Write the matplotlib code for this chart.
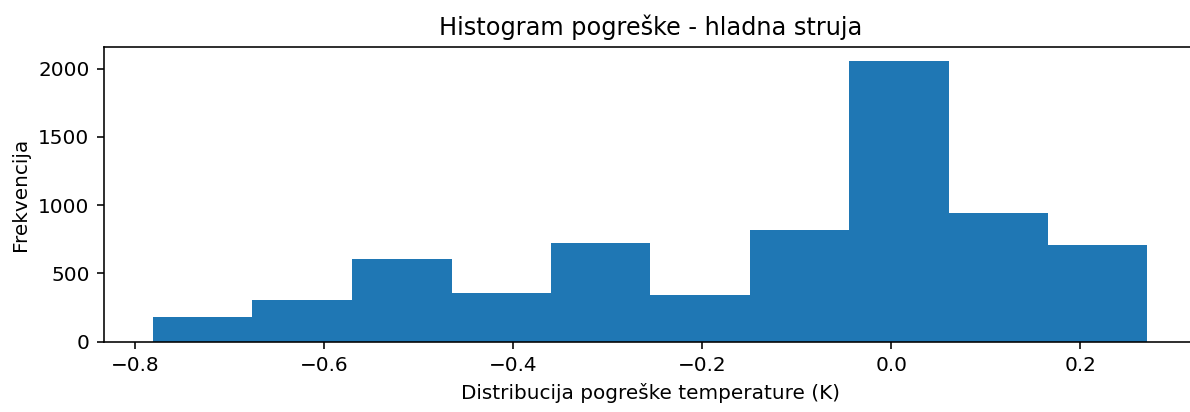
import numpy as np
import matplotlib
matplotlib.use("Agg")
import matplotlib.pyplot as plt

# rubovi binova i frekvencije (očitano sa slike)
rubovi = [-0.781, -0.676, -0.571, -0.465, -0.360, -0.255, -0.150, -0.045, 0.061, 0.166, 0.271]
frekvencije = [181, 308, 606, 357, 721, 340, 814, 2053, 941, 704]

fig = plt.figure(figsize=(1190 / 144, 412 / 144), dpi=144)
# desni rub osi izlazi izvan slike (kao na izrezanoj originalnoj slici)
ax = fig.add_axes([0.087, 0.171, 0.919, 0.714])

ax.hist(rubovi[:-1], bins=rubovi, weights=frekvencije, color="#1f77b4")
ax.set_title("Histogram pogreške - hladna struja")
ax.set_xlabel("Distribucija pogreške temperature (K)")
ax.set_ylabel("Frekvencija")

fig.savefig("out.png", dpi=144)
